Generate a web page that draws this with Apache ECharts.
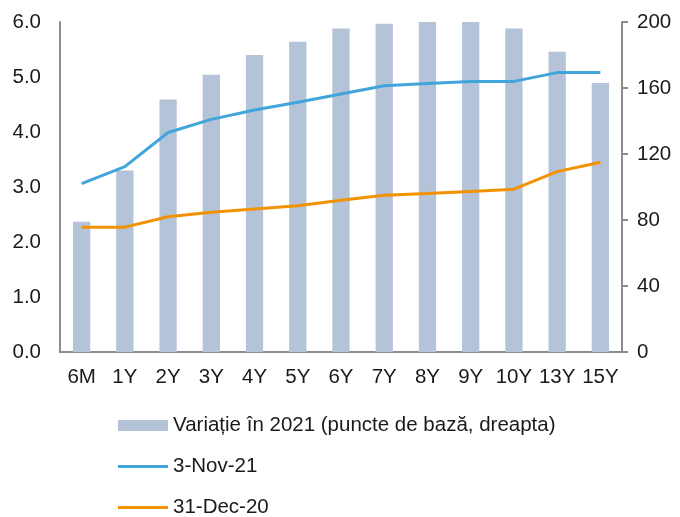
<!DOCTYPE html>
<html>
<head>
    <meta http-equiv="Content-Type" content="text/html; charset=utf-8"/>
    <title>ECharts</title>
    <script src="https://cdn.jsdelivr.net/npm/echarts@6/dist/echarts.min.js"></script>
    <style>
        body { margin: 0; background: #fff; }
    </style>
</head>
<body>
<div id="main" style="width: 680px;height:517px;"></div>
<script type="text/javascript">
    // 数据
    var categories = ['6M', '1Y', '2Y', '3Y', '4Y', '5Y', '6Y', '7Y', '8Y', '9Y', '10Y', '13Y', '15Y'];
    var variatie = [79, 110, 153, 168, 180, 188, 196, 199, 200, 200, 196, 182, 163];
    var nov21 = [3.06, 3.37, 3.99, 4.23, 4.40, 4.54, 4.69, 4.84, 4.88, 4.92, 4.92, 5.08, 5.08];
    var dec20 = [2.27, 2.27, 2.46, 2.54, 2.60, 2.66, 2.76, 2.85, 2.88, 2.92, 2.96, 3.28, 3.45];

    var barName = 'Variație în 2021 (puncte de bază, dreapta)';
    var font = 'Liberation Sans, Arial, sans-serif';
    var axisGray = '#8c8c8c';
    // 图例里的线条图标（细长矩形）
    var lineIcon = 'path://M0,0 L50,0 L50,3 L0,3 Z';

    var myChart = echarts.init(document.getElementById('main'));

    myChart.setOption({
        animation: false,
        textStyle: {fontFamily: font},
        grid: {
            left: 60,
            right: 58,
            top: 22,
            bottom: 165
        },
        legend: {
            orient: 'vertical',
            left: 118,
            top: 415,
            height: 110,
            padding: 0,
            itemWidth: 50,
            itemHeight: 11,
            itemGap: 20,
            textStyle: {fontSize: 20.5, color: '#1a1a1a', fontFamily: font},
            data: [
                {name: barName, icon: 'rect'},
                {name: '3-Nov-21', icon: lineIcon},
                {name: '31-Dec-20', icon: lineIcon}
            ]
        },
        xAxis: {
            type: 'category',
            data: categories,
            axisLine: {lineStyle: {color: axisGray, width: 2}},
            axisTick: {show: false},
            axisLabel: {fontSize: 20.5, color: '#1a1a1a', margin: 15, interval: 0}
        },
        yAxis: [
            {
                type: 'value',
                min: 0,
                max: 6,
                interval: 1,
                axisLine: {show: true, lineStyle: {color: axisGray, width: 2}},
                axisTick: {show: false},
                splitLine: {show: false},
                axisLabel: {
                    fontSize: 20.5, color: '#1a1a1a', margin: 19,
                    formatter: function (v) { return v.toFixed(1); }
                }
            },
            {
                type: 'value',
                min: 0,
                max: 200,
                interval: 40,
                position: 'right',
                axisLine: {show: true, lineStyle: {color: axisGray, width: 2}},
                axisTick: {show: true, length: 6, lineStyle: {color: axisGray, width: 2}},
                splitLine: {show: false},
                axisLabel: {fontSize: 20.5, color: '#1a1a1a', margin: 15}
            }
        ],
        series: [
            {
                name: barName,
                type: 'bar',
                yAxisIndex: 1,
                barWidth: '40%',
                itemStyle: {color: '#b4c3d7'},
                data: variatie
            },
            {
                name: '3-Nov-21',
                type: 'line',
                yAxisIndex: 0,
                symbol: 'none',
                lineStyle: {color: '#41a5db', width: 3},
                itemStyle: {color: '#41a5db'},
                data: nov21
            },
            {
                name: '31-Dec-20',
                type: 'line',
                yAxisIndex: 0,
                symbol: 'none',
                lineStyle: {color: '#f39200', width: 3},
                itemStyle: {color: '#f39200'},
                data: dec20
            }
        ]
    });
</script>
</body>
</html>
